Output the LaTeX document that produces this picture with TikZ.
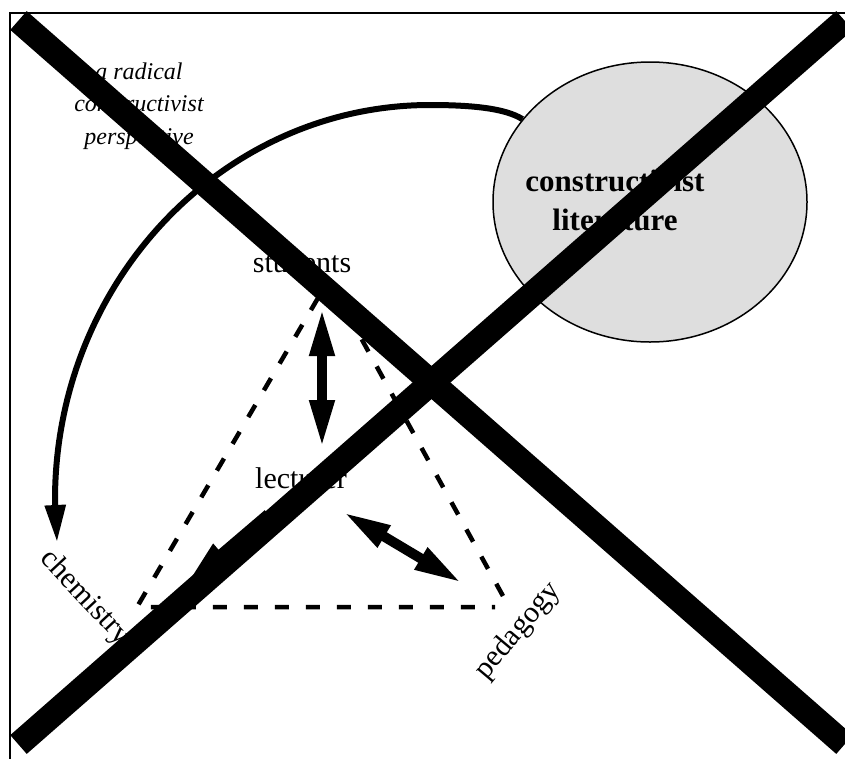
\documentclass[tikz,border=0pt]{standalone}
\usepackage{fontspec}
\setmainfont{Liberation Serif}
\usetikzlibrary{arrows.meta,shapes.geometric}
\definecolor{litfill}{RGB}{222,222,222}

\begin{document}
\begin{tikzpicture}[x=1pt,y=-1pt,
  frameline/.style={line width=2pt},
  corner/.style={font=\fontsize{30}{36}\selectfont, inner sep=0pt},
  perspective/.style={font=\fontsize{24}{32.5}\selectfont\itshape, inner sep=0pt, align=center},
  littext/.style={font=\fontsize{31}{39}\selectfont\bfseries, inner sep=0pt, align=center},
  litbubble/.style={ellipse, draw, line width=1.5pt, fill=litfill,
    minimum width=314pt, minimum height=280pt, inner sep=0pt},
  tri/.style={dash pattern=on 14pt off 17pt, line width=4.5pt},
  dbl/.style={line width=10pt, {Triangle[length=48pt,width=23pt]}-{Triangle[length=48pt,width=23pt]}},
  single/.style={line width=10pt, -{Triangle[length=47pt,width=23pt]}},
  curved/.style={line width=6pt, -{Triangle[length=37pt,width=20pt]}},
  cross/.style={line width=25pt, line cap=butt}
]
\useasboundingbox (0,0) rectangle (845,758);
\clip (0,0) rectangle (845,758);
\fill[white] (0,0) rectangle (845,758);

% outer frame (runs off the right and bottom edges)
\coordinate (fBL) at (10,800);
\coordinate (fTL) at (10,13);
\coordinate (fTR) at (900,13);
\draw[frameline] (fBL) -- (fTL) -- (fTR);

% literature bubble
\node[litbubble] (lit) at (650,202) {};
\node[littext, anchor=base] (litlabel) at (615,230) {constructivist\\literature};

% labels (base of a multi-line node is its last line)
\node[perspective, anchor=base] (persp) at (139,144) {a radical\\constructivist\\perspective};
\node[corner, anchor=base] (students) at (302,272) {students};
\node[corner, anchor=base] (lecturer) at (301,488) {lecturer};
\node[corner, rotate=-47] (chemistry) at (85,598) {chemistry};
\node[corner, rotate=50] (pedagogy) at (518,631) {pedagogy};

% dashed triangle
\coordinate (tA) at (318,298);
\coordinate (tB) at (137,607);
\coordinate (tC) at (495,607);
\coordinate (tD) at (503,596);
\coordinate (tE) at (350,318);
\draw[tri] (tA) -- (tB) -- (tC);
\draw[tri] (tD) -- (tE);

% arrows between the corners
\coordinate (sl1) at (322,308);
\coordinate (sl2) at (322,448);
\draw[dbl] (sl1) -- (sl2);

\coordinate (lp1) at (343,512);
\coordinate (lp2) at (462,583);
\draw[dbl] (lp1) -- (lp2);

\coordinate (lc1) at (268,514);
\coordinate (lc2) at (186,584);
\draw[single] (lc1) -- (lc2);

% curved arrow from the literature to chemistry
\coordinate (arcTop) at (430,105);
\coordinate (arcLeft) at (55,500);
\coordinate (arcTip) at (57,542);
\draw[curved] (lit.147) .. controls (505,108) and (470,105) .. (arcTop)
  .. controls (223,105) and (55,282) .. (arcLeft) -- (arcTip);

% crossing-out bars
\coordinate (xTL) at (18.5,20.5);
\coordinate (xBR) at (844.5,744.5);
\coordinate (xTR) at (844.5,20.5);
\coordinate (xBL) at (18.5,744.5);
\draw[cross] (xTL) -- (xBR);
\draw[cross] (xTR) -- (xBL);
\end{tikzpicture}
\end{document}
